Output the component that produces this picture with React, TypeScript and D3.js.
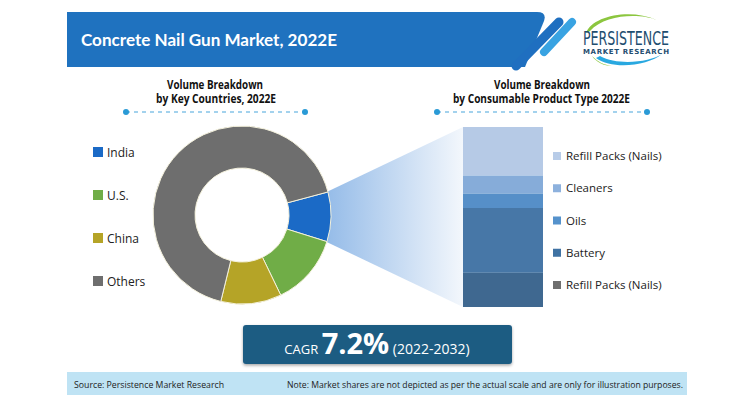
import React from 'react';
import * as d3 from 'd3';

// Donut: volume by key countries
const countries = ['India', 'U.S.', 'China', 'Others'];
const countryShares = [9, 13, 11, 67];
const countryColors = ['#1b6ac6', '#70ad47', '#b5a427', '#6e6e6e'];

// Stacked bar: volume by consumable product type (top to bottom)
const products = ['Refill Packs (Nails)', 'Cleaners', 'Oils', 'Battery', 'Refill Packs (Nails)'];
const productShares = [27, 10, 8, 36, 19];
const productBarColors = ['#b6cae6', '#86acd9', '#568fc8', '#4777a7', '#3f6890'];
const productLegendColors = ['#b8cce8', '#8db1dd', '#5592cc', '#3f72a3', '#6f6f6f'];

const TITLE = 'Concrete Nail Gun Market, 2022E';
const CAGR_VALUE = '7.2%';
const CAGR_PERIOD = '(2022-2032)';

const W = 755;
const H = 395;
const FONT = 'Open Sans, sans-serif';

const CX = 242;
const CY = 215;
const R_OUT = 89;
const R_IN = 47;
const START = (75 * Math.PI) / 180;

const BAR_X = 463;
const BAR_W = 80;
const BAR_TOP = 127;
const BAR_BOTTOM = 307;

const DashedRule: React.FC<{ x1: number; x2: number; y: number }> = ({ x1, x2, y }) => (
  <g>
    <line x1={x1} x2={x2} y1={y} y2={y} stroke="#48a6dc" strokeWidth={1.2} strokeDasharray="4,4" />
    <circle cx={x1} cy={y} r={3} fill="#2a9ad6" />
    <circle cx={x2} cy={y} r={3} fill="#2a9ad6" />
  </g>
);

export default function App() {
  const pie = d3
    .pie<number>()
    .sort(null)
    .value((d) => d)
    .startAngle(START)
    .endAngle(START + 2 * Math.PI);
  const arcs = pie(countryShares);
  const arc = d3.arc<d3.PieArcDatum<number>>().innerRadius(R_IN).outerRadius(R_OUT);

  // D3 angle -> svg point
  const toSvg = (r: number, a: number) => [CX + r * Math.sin(a), CY - r * Math.cos(a)];
  const india = arcs[0];
  const [ax, ay] = toSvg(R_OUT - 3, india.startAngle);
  const [bx, by] = toSvg(R_OUT - 3, india.endAngle);

  const y = d3.scaleLinear().domain([0, d3.sum(productShares)]).range([BAR_TOP, BAR_BOTTOM]);
  const cum = Array.from(d3.cumsum(productShares));
  const segs = productShares.map((v, i) => ({ y0: i === 0 ? 0 : cum[i - 1], y1: cum[i], i }));

  const leftLegendY = d3.scalePoint<number>().domain(d3.range(countries.length)).range([152, 281]);
  const rightLegendY = d3.scalePoint<number>().domain(d3.range(products.length)).range([156, 285]);

  return (
    <svg width={W} height={H} viewBox={`0 0 ${W} ${H}`} style={{ position: 'absolute', left: 0, top: 0 }}>
      <defs>
        <linearGradient id="funnel" x1={ax} x2={BAR_X} y1={0} y2={0} gradientUnits="userSpaceOnUse">
          <stop offset="0" stopColor="#94bbe8" />
          <stop offset="1" stopColor="#f3f7fc" />
        </linearGradient>
        <filter id="shadow" x="-5%" y="-20%" width="110%" height="150%">
          <feDropShadow dx="0" dy="1.5" stdDeviation="1.5" floodColor="#000" floodOpacity="0.35" />
        </filter>
      </defs>
      <rect width={W} height={H} fill="#ffffff" />

      {/* header */}
      <path d="M67,12 L537,12 Q547,12 544,21 L525,67 L67,67 Z" fill="#1f72bf" />
      <line x1={559} y1={22} x2={516} y2={66} stroke="#1f6fc0" strokeWidth={9} strokeLinecap="round" />
      <line x1={572} y1={22} x2={544} y2={52} stroke="#39a3e2" strokeWidth={8} strokeLinecap="round" />
      <text x={81} y={46} fill="#ffffff" fontFamily="Lato, sans-serif" fontWeight="bold" fontSize={17} textLength={256} lengthAdjust="spacingAndGlyphs">
        {TITLE}
      </text>

      {/* logo */}
      <path d="M586,33 C592,16 630,8 657,20 C640,13 605,14 590,31 Z" fill="#8cc63f" />
      <path d="M596,58 C612,70 648,66 662,54 C650,62 618,66 600,56 Z" fill="#29a8e0" />
      <path d="M592,56 C598,62 604,65 612,66 C604,66 596,62 592,56 Z" fill="#8cc63f" />
      <text x={583} y={45} fill="#1f4e70" fontFamily="DejaVu Sans Condensed, DejaVu Sans, sans-serif" fontSize={19} textLength={86} lengthAdjust="spacingAndGlyphs">
        PERSISTENCE
      </text>
      <text x={583} y={54} fill="#1f4e70" fontFamily="DejaVu Sans, sans-serif" fontSize={7} fontWeight="bold" textLength={86} lengthAdjust="spacing">
        MARKET RESEARCH
      </text>

      {/* subtitles */}
      <g fontFamily={FONT} fontWeight="bold" fontSize={11.5} fill="#111" textAnchor="middle" lengthAdjust="spacingAndGlyphs">
        <text x={215} y={89} textLength={96} lengthAdjust="spacingAndGlyphs">Volume Breakdown</text>
        <text x={216} y={103} textLength={120} lengthAdjust="spacingAndGlyphs">by Key Countries, 2022E</text>
        <text x={542} y={89} textLength={96} lengthAdjust="spacingAndGlyphs">Volume Breakdown</text>
        <text x={541.5} y={103} textLength={177} lengthAdjust="spacingAndGlyphs">by Consumable Product Type 2022E</text>
      </g>
      <DashedRule x1={126} x2={305} y={112} />
      <DashedRule x1={437} x2={647} y={112} />

      {/* funnel */}
      <polygon points={`${ax},${ay} ${BAR_X},${BAR_TOP} ${BAR_X},${BAR_BOTTOM} ${bx},${by}`} fill="url(#funnel)" />

      {/* donut */}
      <g transform={`translate(${CX},${CY})`}>
        {arcs.map((a, i) => (
          <path key={i} d={arc(a) ?? ''} fill={countryColors[i]} stroke="#f4f1dc" strokeWidth={1} />
        ))}
      </g>

      {/* left legend */}
      <g fontFamily={FONT} fontSize={12} fill="#222">
        {countries.map((c, i) => (
          <g key={c} transform={`translate(93,${leftLegendY(i)})`}>
            <rect x={0} y={-5} width={10} height={10} fill={countryColors[i]} />
            <text x={14} y={4.5}>{c}</text>
          </g>
        ))}
      </g>

      {/* stacked bar */}
      <g>
        {segs.map((s) => (
          <rect key={s.i} x={BAR_X} y={y(s.y0)} width={BAR_W} height={y(s.y1) - y(s.y0)} fill={productBarColors[s.i]} />
        ))}
      </g>

      {/* right legend */}
      <g fontFamily={FONT} fontSize={11.5} fill="#222">
        {products.map((p, i) => (
          <g key={i} transform={`translate(553,${rightLegendY(i)})`}>
            <rect x={0} y={-4} width={8} height={8} fill={productLegendColors[i]} />
            <text x={13} y={4}>{p}</text>
          </g>
        ))}
      </g>

      {/* CAGR box */}
      <rect x={243} y={325} width={269} height={39} rx={3} fill="#1d5b82" filter="url(#shadow)" />
      <text y={354} fill="#ffffff" fontFamily={FONT} textAnchor="middle" x={377}>
        <tspan fontSize={13}>CAGR </tspan>
        <tspan fontSize={29} fontWeight="bold">{CAGR_VALUE}</tspan>
        <tspan fontSize={14}> {CAGR_PERIOD}</tspan>
      </text>

      {/* footer */}
      <rect x={67} y={372} width={620} height={23} fill="#bfe3f4" />
      <text x={74} y={388} fontFamily={FONT} fontSize={9.5} fill="#222" textLength={150} lengthAdjust="spacingAndGlyphs">
        Source: Persistence Market Research
      </text>
      <text x={287} y={388} fontFamily={FONT} fontSize={9.5} fill="#222" textLength={396} lengthAdjust="spacingAndGlyphs">
        Note: Market shares are not depicted as per the actual scale and are only for illustration purposes.
      </text>
    </svg>
  );
}
